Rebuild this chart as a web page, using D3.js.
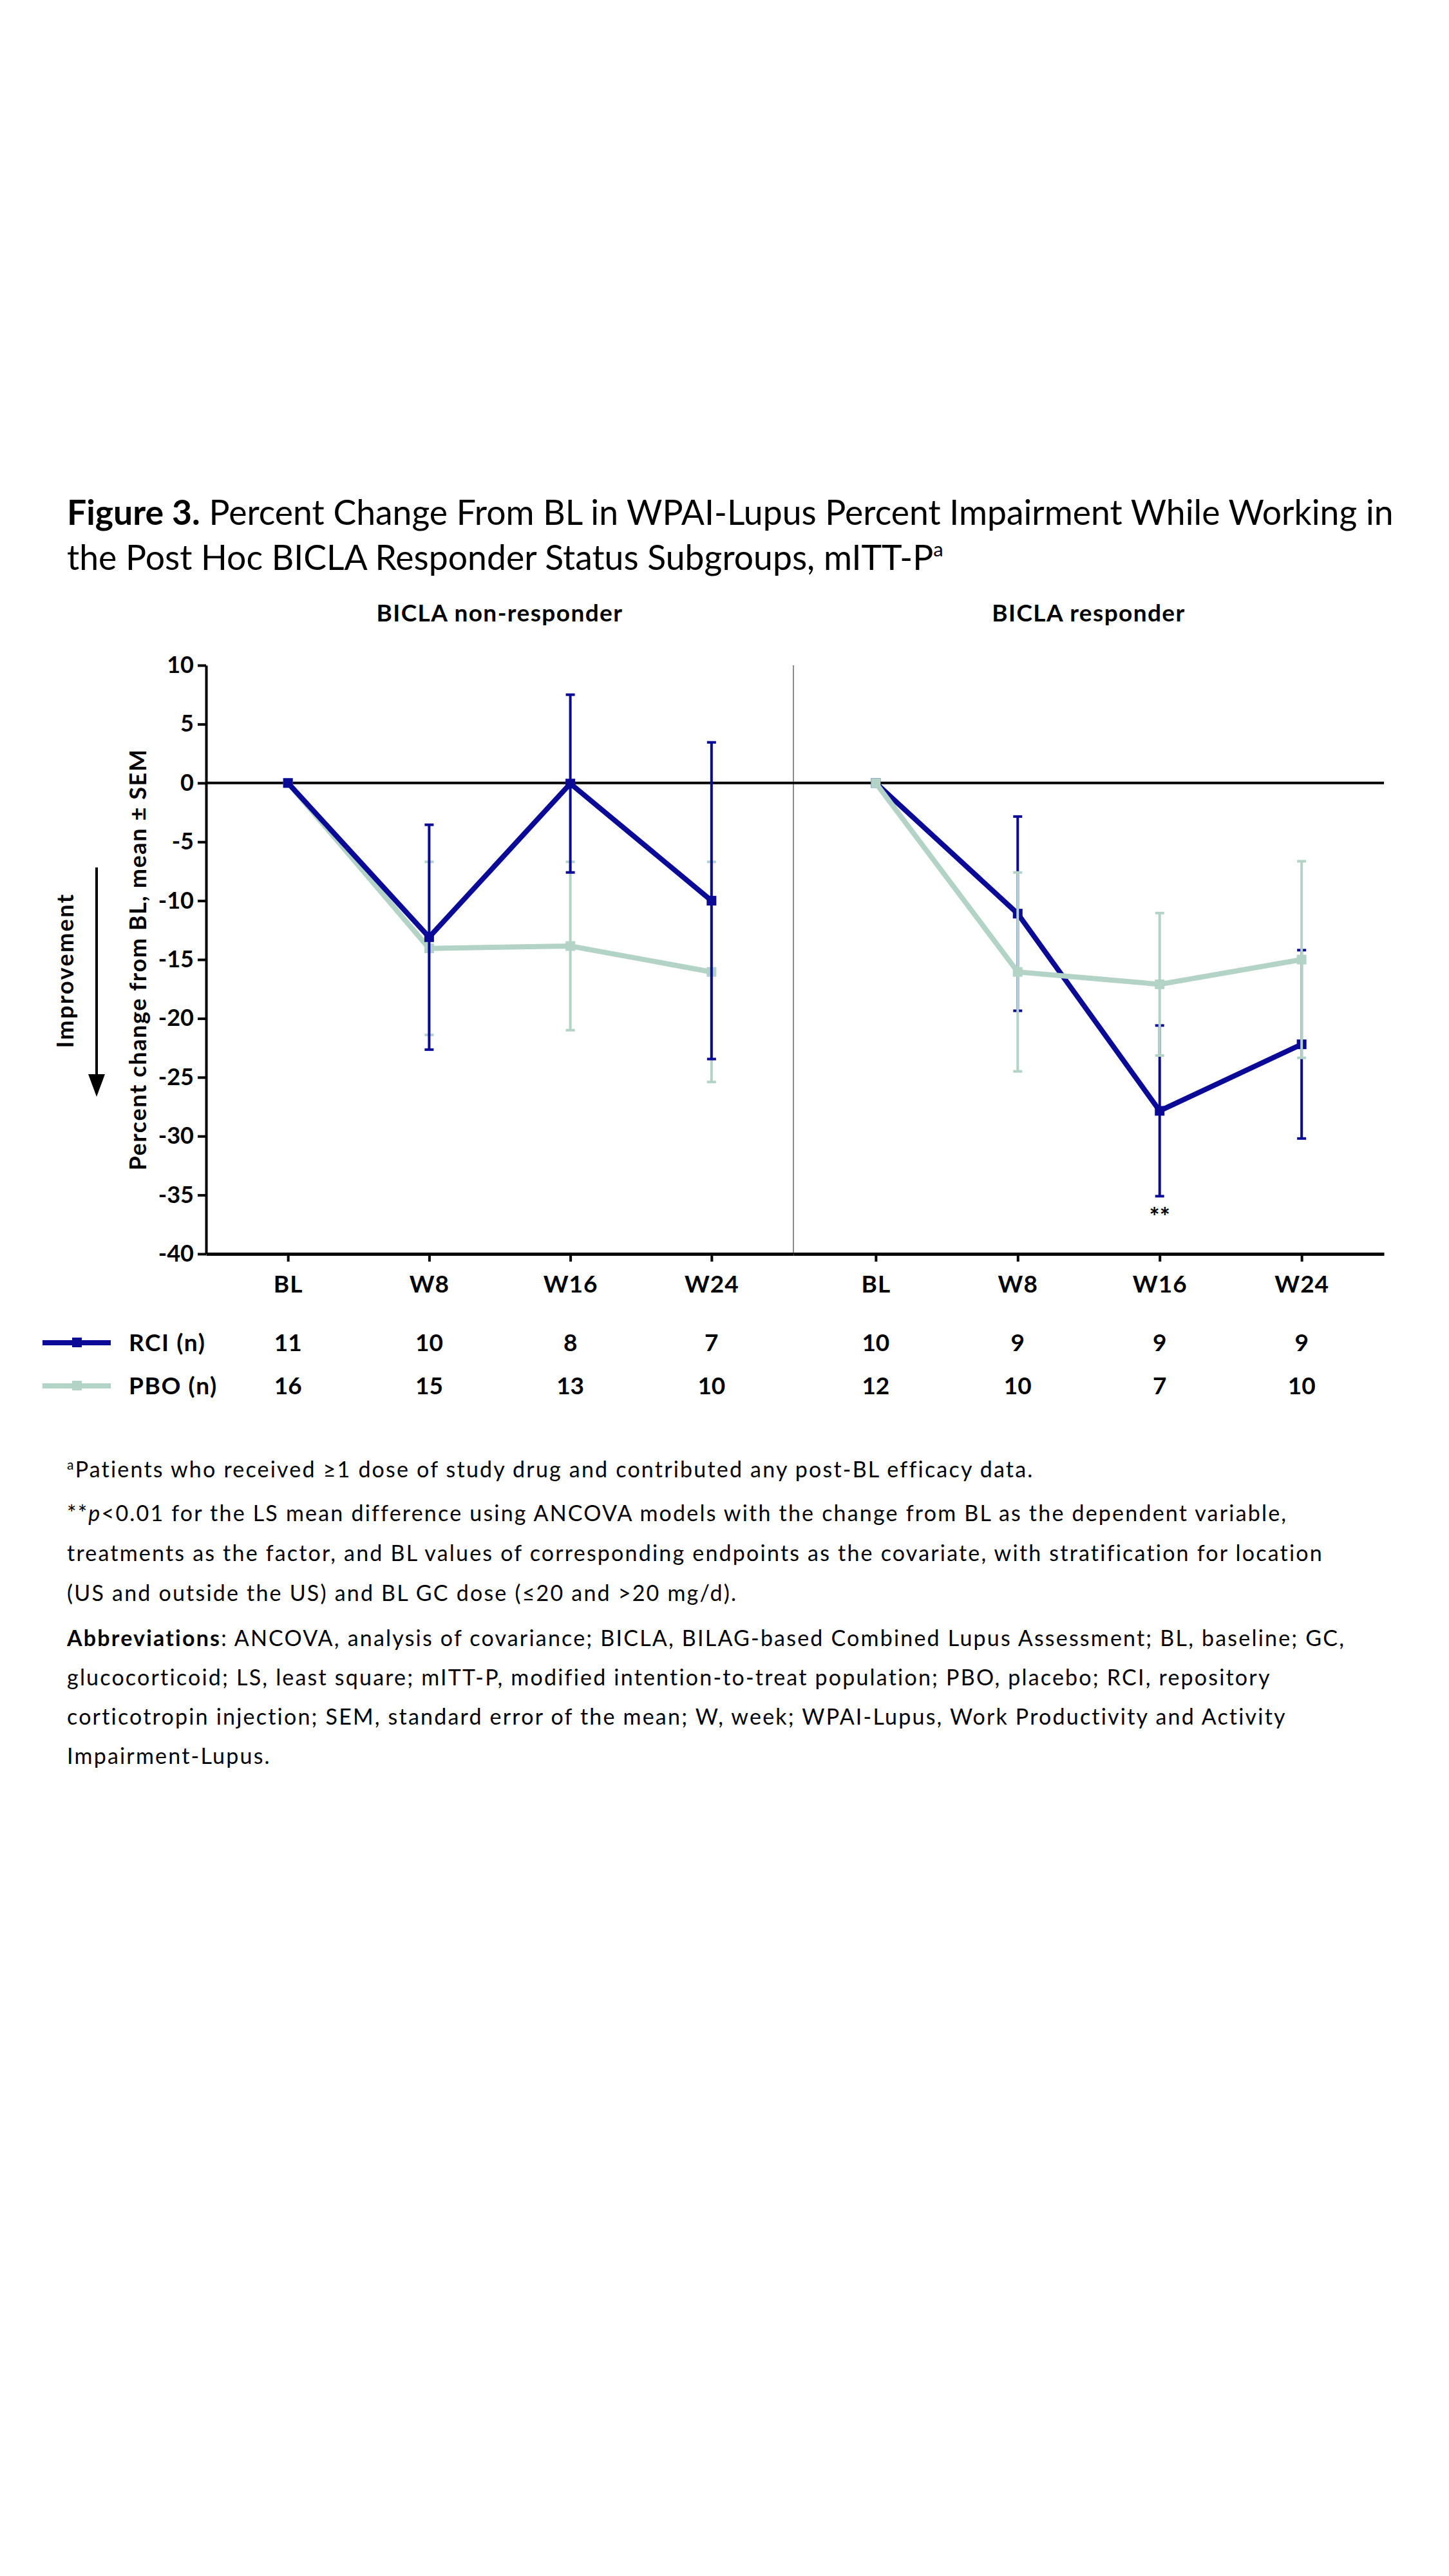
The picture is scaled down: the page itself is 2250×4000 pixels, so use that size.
<!DOCTYPE html>
<html>
<head>
<meta charset="utf-8">
<script src="https://cdn.jsdelivr.net/npm/d3@7"></script>
<style>
  body { margin: 0; background: #fff; }
  svg { display: block; }
</style>
</head>
<body>
<div id="chart"></div>
<script>
const timepoints = ['BL', 'W8', 'W16', 'W24']
const panelTitles = ['BICLA non-responder', 'BICLA responder']
const yTicks = [10, 5, 0, -5, -10, -15, -20, -25, -30, -35, -40]

// BICLA non-responder, mean and SEM
const rciNonMean = [0, -13.1, -0.05, -10.0]
const rciNonSem = [0, 9.55, 7.55, 13.45]
const pboNonMean = [0, -14.05, -13.85, -16.05]
const pboNonSem = [0, 7.35, 7.15, 9.35]

// BICLA responder, mean and SEM
const rciRespMean = [0, -11.1, -27.85, -22.2]
const rciRespSem = [0, 8.25, 7.25, 8.0]
const pboRespMean = [0, -16.05, -17.1, -15.0]
const pboRespSem = [0, 8.45, 6.05, 8.35]

// patients at each visit
const rciNonN = [11, 10, 8, 7]
const rciRespN = [10, 9, 9, 9]
const pboNonN = [16, 15, 13, 10]
const pboRespN = [12, 10, 7, 10]

const titleLine1 = 'Percent Change From BL in WPAI-Lupus Percent Impairment While Working in'
const titleLine2 = 'the Post Hoc BICLA Responder Status Subgroups, mITT-P'

var BLUE = '#0a0a96'
var GREEN = '#b2d3c6'
var FONT = 'Lato, Carlito, Calibri, "Open Sans", sans-serif'

var width = 2250
var height = 4000
var plotTop = 1033
var plotBottom = 1947
var axisX = 320
var divX = 1232
var plotRight = 2149

var svg = d3.select('#chart').append('svg')
  .attr('width', width)
  .attr('height', height)
  .attr('font-family', FONT)

svg.append('rect').attr('width', width).attr('height', height).attr('fill', '#fff')

var y = d3.scaleLinear().domain([-40, 10]).range([plotBottom, plotTop])

var panels = [
  {
    title: panelTitles[0],
    x: d3.scalePoint().domain(timepoints).range([axisX, divX]).padding(0.58),
    series: [
      { name: 'PBO', mean: pboNonMean, sem: pboNonSem, color: GREEN },
      { name: 'RCI', mean: rciNonMean, sem: rciNonSem, color: BLUE }
    ],
    rciN: rciNonN,
    pboN: pboNonN
  },
  {
    title: panelTitles[1],
    x: d3.scalePoint().domain(timepoints).range([divX, plotRight]).padding(0.58),
    series: [
      { name: 'RCI', mean: rciRespMean, sem: rciRespSem, color: BLUE },
      { name: 'PBO', mean: pboRespMean, sem: pboRespSem, color: GREEN }
    ],
    rciN: rciRespN,
    pboN: pboRespN
  }
]

// title
var title = svg.append('g').attr('font-size', 53.5).attr('fill', '#000')
var t1 = title.append('text').attr('x', 104).attr('y', 815)
t1.append('tspan').attr('font-weight', 'bold').text('Figure 3.')
t1.append('tspan').text(' ' + titleLine1)
var t2 = title.append('text').attr('x', 104).attr('y', 885)
t2.append('tspan').text(titleLine2)
t2.append('tspan').attr('font-size', 31).attr('dy', -21).text('a')

// panel headings
svg.append('g')
  .attr('font-size', 37)
  .attr('font-weight', 'bold')
  .attr('letter-spacing', 1.4)
  .attr('text-anchor', 'middle')
  .selectAll('text')
  .data(panels)
  .enter()
  .append('text')
  .attr('x', d => (d.x.range()[0] + d.x.range()[1]) / 2)
  .attr('y', 965)
  .text(d => d.title)

// divider between panels
svg.append('line')
  .attr('x1', divX).attr('x2', divX)
  .attr('y1', plotTop).attr('y2', plotBottom)
  .attr('stroke', '#8a8a8a')
  .attr('stroke-width', 2)

// zero line
svg.append('line')
  .attr('x1', axisX).attr('x2', plotRight)
  .attr('y1', y(0)).attr('y2', y(0))
  .attr('stroke', '#000')
  .attr('stroke-width', 4)

// y axis
var yAxis = svg.append('g')
  .attr('transform', `translate(${axisX},0)`)
  .call(d3.axisLeft(y).tickValues(yTicks).tickFormat(d => String(d))
    .tickSize(13).tickSizeOuter(0).tickPadding(6))
yAxis.attr('font-family', null).attr('font-size', null)
yAxis.select('.domain').attr('stroke-width', 4)
yAxis.selectAll('.tick line').attr('stroke-width', 4)
yAxis.selectAll('.tick text')
  .attr('font-size', 36)
  .attr('font-weight', 'bold')
  .attr('fill', '#000')

// x axes
panels.forEach(p => {
  var g = svg.append('g')
    .attr('transform', `translate(0,${plotBottom})`)
    .call(d3.axisBottom(p.x).tickSize(12).tickSizeOuter(0).tickPadding(22))
  g.attr('font-family', null).attr('font-size', null)
  g.select('.domain').attr('stroke-width', 5)
  g.selectAll('.tick line').attr('stroke-width', 4)
  g.selectAll('.tick text')
    .attr('font-size', 37)
    .attr('font-weight', 'bold')
    .attr('letter-spacing', 1)
    .attr('fill', '#000')
})

// series: error bars, line, markers
panels.forEach(p => {
  p.series.forEach(s => {
    var pts = timepoints.map((t, i) => ({ t: t, mean: s.mean[i], sem: s.sem[i] }))
    var g = svg.append('g').attr('class', 'series-' + s.name)

    var bars = g.append('g')
      .attr('stroke', s.color)
      .attr('stroke-width', 4)
      .selectAll('g')
      .data(pts.filter(d => d.sem > 0))
      .enter()
      .append('g')
    bars.append('line')
      .attr('x1', d => p.x(d.t)).attr('x2', d => p.x(d.t))
      .attr('y1', d => y(d.mean + d.sem)).attr('y2', d => y(d.mean - d.sem))
    bars.append('line')
      .attr('x1', d => p.x(d.t) - 7).attr('x2', d => p.x(d.t) + 7)
      .attr('y1', d => y(d.mean + d.sem)).attr('y2', d => y(d.mean + d.sem))
    bars.append('line')
      .attr('x1', d => p.x(d.t) - 7).attr('x2', d => p.x(d.t) + 7)
      .attr('y1', d => y(d.mean - d.sem)).attr('y2', d => y(d.mean - d.sem))

    var line = d3.line().x(d => p.x(d.t)).y(d => y(d.mean))
    g.append('path')
      .datum(pts)
      .attr('fill', 'none')
      .attr('stroke', s.color)
      .attr('stroke-width', 8)
      .attr('d', line)

    g.append('g')
      .attr('fill', s.color)
      .selectAll('rect')
      .data(pts)
      .enter()
      .append('rect')
      .attr('x', d => p.x(d.t) - 7.5)
      .attr('y', d => y(d.mean) - 7.5)
      .attr('width', 15)
      .attr('height', 15)
  })
})

// significance marker at responder W16
svg.append('text')
  .attr('x', panels[1].x('W16'))
  .attr('y', 1903)
  .attr('text-anchor', 'middle')
  .attr('font-size', 38)
  .attr('font-weight', 'bold')
  .text('**')

// axis title and improvement arrow
svg.append('text')
  .attr('transform', 'translate(227,1490) rotate(-90)')
  .attr('text-anchor', 'middle')
  .attr('font-size', 36)
  .attr('font-weight', 'bold')
  .attr('letter-spacing', 1.6)
  .text('Percent change from BL, mean \u00b1 SEM')

svg.append('text')
  .attr('transform', 'translate(114,1507) rotate(-90)')
  .attr('text-anchor', 'middle')
  .attr('font-size', 36)
  .attr('font-weight', 'bold')
  .attr('letter-spacing', 2.4)
  .text('Improvement')

svg.append('line')
  .attr('x1', 150).attr('x2', 150)
  .attr('y1', 1347).attr('y2', 1672)
  .attr('stroke', '#000')
  .attr('stroke-width', 4)
svg.append('path')
  .attr('d', 'M137,1668 L163,1668 L150,1703 Z')
  .attr('fill', '#000')

// n table with legend keys
var rows = [
  { label: 'RCI (n)', color: BLUE, y: 2098, key: 'rciN' },
  { label: 'PBO (n)', color: GREEN, y: 2165, key: 'pboN' }
]
rows.forEach(r => {
  var g = svg.append('g')
  g.append('line')
    .attr('x1', 66).attr('x2', 172)
    .attr('y1', r.y - 13).attr('y2', r.y - 13)
    .attr('stroke', r.color)
    .attr('stroke-width', 8)
  g.append('rect')
    .attr('x', 112).attr('y', r.y - 21)
    .attr('width', 15).attr('height', 15)
    .attr('fill', r.color)
  g.append('text')
    .attr('x', 200).attr('y', r.y)
    .attr('font-size', 37)
    .attr('font-weight', 'bold')
    .attr('letter-spacing', 1.6)
    .text(r.label)
  panels.forEach(p => {
    g.append('g')
      .attr('font-size', 37)
      .attr('font-weight', 'bold')
      .attr('text-anchor', 'middle')
      .selectAll('text')
      .data(p[r.key])
      .enter()
      .append('text')
      .attr('x', (d, i) => p.x(timepoints[i]))
      .attr('y', r.y)
      .text(d => d)
  })
})

// footnotes
var notes = svg.append('g')
  .attr('font-size', 34)
  .attr('letter-spacing', 2.2)
  .attr('fill', '#000')
var n1 = notes.append('text').attr('x', 104).attr('y', 2294)
n1.append('tspan').attr('font-size', 21).attr('dy', -12).text('a')
n1.append('tspan').attr('dy', 12).text('Patients who received \u22651 dose of study drug and contributed any post-BL efficacy data.')

var n2 = notes.append('text').attr('x', 104).attr('y', 2362)
n2.append('tspan').text('**')
n2.append('tspan').attr('font-style', 'italic').text('p')
n2.append('tspan').text('<0.01 for the LS mean difference using ANCOVA models with the change from BL as the dependent variable,')
notes.append('text').attr('x', 104).attr('y', 2424)
  .text('treatments as the factor, and BL values of corresponding endpoints as the covariate, with stratification for location')
notes.append('text').attr('x', 104).attr('y', 2486)
  .text('(US and outside the US) and BL GC dose (\u226420 and >20 mg/d).')

var n5 = notes.append('text').attr('x', 104).attr('y', 2556)
n5.append('tspan').attr('font-weight', 'bold').text('Abbreviations')
n5.append('tspan').text(': ANCOVA, analysis of covariance; BICLA, BILAG-based Combined Lupus Assessment; BL, baseline; GC,')
notes.append('text').attr('x', 104).attr('y', 2617)
  .text('glucocorticoid; LS, least square; mITT-P, modified intention-to-treat population; PBO, placebo; RCI, repository')
notes.append('text').attr('x', 104).attr('y', 2678)
  .text('corticotropin injection; SEM, standard error of the mean; W, week; WPAI-Lupus, Work Productivity and Activity')
notes.append('text').attr('x', 104).attr('y', 2739)
  .text('Impairment-Lupus.')
</script>
</body>
</html>
